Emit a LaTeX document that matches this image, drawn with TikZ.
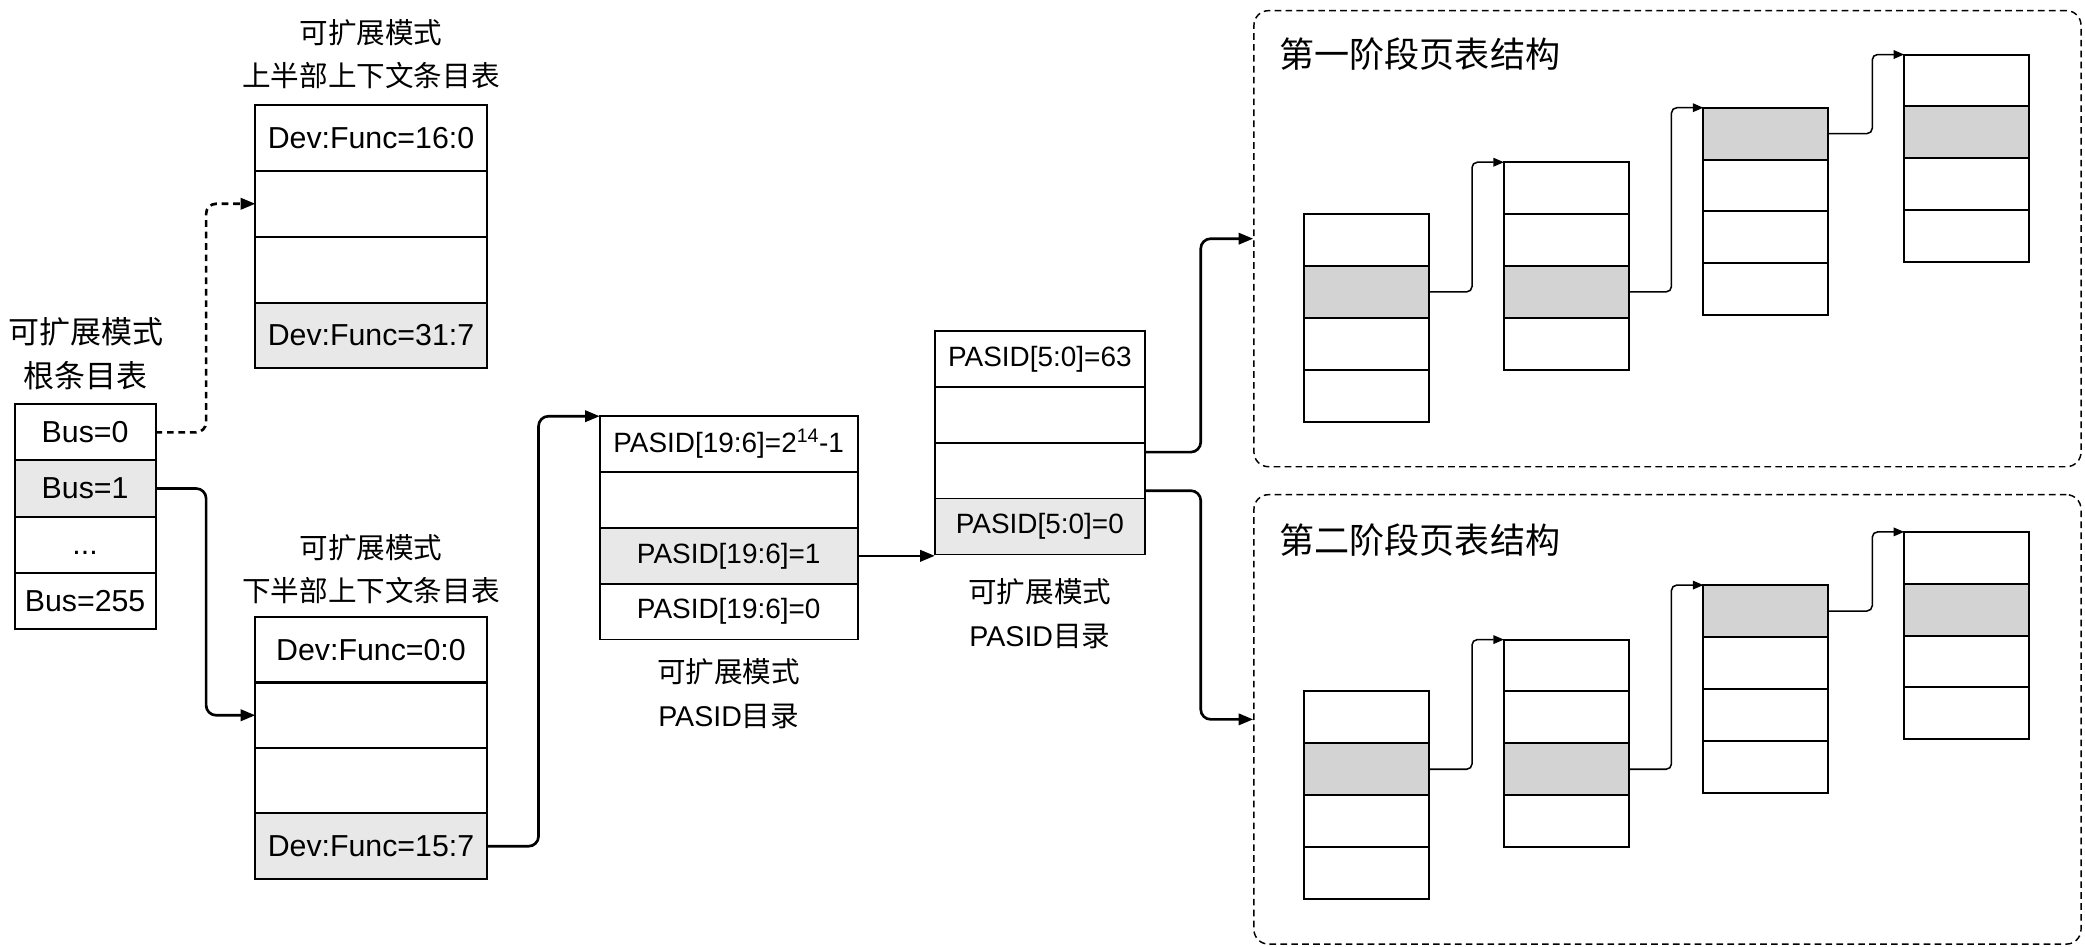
\documentclass[tikz,border=0pt]{standalone}
\usepackage{fontspec}
\setmainfont{Liberation Sans}
\newfontfamily\cjk{Noto Sans CJK SC}
\usetikzlibrary{arrows.meta}
\definecolor{cellgray}{HTML}{E8E8E8}
\definecolor{stackgray}{HTML}{D3D3D3}
\begin{document}
\begin{tikzpicture}[x=1pt,y=-1pt,
  tcell/.style={draw, line width=1.5pt, inner sep=0pt, outer sep=0pt, font=\fontsize{22.8}{26}\selectfont},
  pcell/.style={tcell, line width=1.25pt, font=\fontsize{21}{24}\selectfont},
  scell/.style={draw, line width=1.5pt, inner sep=0pt, outer sep=0pt, minimum width=94pt, minimum height=39pt},
  lbl/.style={align=center, inner sep=0pt, font=\cjk\fontsize{21.5}{32.5}\selectfont},
  conn/.style={line width=2pt, rounded corners=7.5pt, -{Triangle[length=11pt,width=8.5pt]}},
  sconn/.style={line width=1.15pt, rounded corners=4pt, -{Triangle[length=8pt,width=6.5pt]}},
  stagebox/.style={draw, dash pattern=on 5pt off 3.2pt, line width=1.1pt, rounded corners=11pt, minimum width=622pt, inner sep=0pt},
  ttl/.style={anchor=west, inner sep=0pt, font=\cjk\fontsize{26.4}{30}\selectfont}
]
\useasboundingbox (0,0) rectangle (1568,712);
\fill[white] (0,0) rectangle (1568,712);

% root table
\node[lbl, font=\cjk\fontsize{23.3}{32.7}\selectfont] (rootlbl) at (64.5,266) {可扩展模式\\根条目表};
\node[tcell, minimum width=106pt, minimum height=42.25pt] (r0) at (64,325.125) {Bus=0};
\node[tcell, minimum width=106pt, minimum height=42.25pt, fill=cellgray] (r1) at (64,367.375) {Bus=1};
\node[tcell, minimum width=106pt, minimum height=42.25pt] (r2) at (64,409.625) {\vphantom{Bus}...};
\node[tcell, minimum width=106pt, minimum height=42.25pt] (r3) at (64,451.875) {Bus=255};

% upper context table
\node[lbl] (uplbl) at (279,40.5) {可扩展模式\\上半部上下文条目表};
\node[tcell, minimum width=174pt, minimum height=49.5pt] (u1) at (279,103.75) {Dev:Func=16:0};
\node[tcell, minimum width=174pt, minimum height=49.5pt] (u2) at (279,153.25) {};
\node[tcell, minimum width=174pt, minimum height=49.5pt] (u3) at (279,202.75) {};
\node[tcell, minimum width=174pt, minimum height=49.5pt, fill=cellgray] (u4) at (279,252.25) {Dev:Func=31:7};

% lower context table
\node[lbl] (lolbl) at (279,428) {可扩展模式\\下半部上下文条目表};
\node[tcell, minimum width=174pt, minimum height=49.25pt] (l1) at (279,488.6) {Dev:Func=0:0};
\node[tcell, minimum width=174pt, minimum height=49.25pt] (l2) at (279,537.9) {};
\node[tcell, minimum width=174pt, minimum height=49.25pt] (l3) at (279,587.1) {};
\node[tcell, minimum width=174pt, minimum height=49.25pt, fill=cellgray] (l4) at (279,636.4) {Dev:Func=15:7};

% PASID[19:6] directory
\node[pcell, minimum width=194pt, minimum height=42pt] (p1) at (548,334) {PASID[19:6]=2\textsuperscript{14}-1};
\node[pcell, minimum width=194pt, minimum height=42pt] (p2) at (548,376) {};
\node[pcell, minimum width=194pt, minimum height=42pt, fill=cellgray] (p3) at (548,418) {PASID[19:6]=1};
\node[pcell, minimum width=194pt, minimum height=42pt] (p4) at (548,460) {PASID[19:6]=0};
\node[lbl] (p19lbl) at (548,521.6) {可扩展模式\\{\rmfamily PASID}目录};

% PASID[5:0] directory
\node[pcell, minimum width=158pt, minimum height=42pt] (q1) at (782,270) {PASID[5:0]=63};
\node[pcell, minimum width=158pt, minimum height=42pt] (q2) at (782,312) {};
\node[pcell, minimum width=158pt, minimum height=42pt] (q3) at (782,354) {};
\node[pcell, minimum width=158pt, minimum height=42pt, fill=cellgray] (q4) at (782,396) {PASID[5:0]=0};
\node[lbl] (p5lbl) at (782,461.5) {可扩展模式\\{\rmfamily PASID}目录};

% stage boxes
\node[stagebox, minimum height=343pt] (box1) at (1254,179.5) {};
\node[stagebox, minimum height=338pt] (box2) at (1254,541) {};
\node[ttl] (t1) at (962,41) {第一阶段页表结构};
\node[ttl] (t2) at (962,406) {第二阶段页表结构};

\foreach \s/\dy in {1/0,2/359}{
  \foreach \k/\cx/\top/\g in {a/1028/161/2, b/1178/122/3, c/1328/81/1, d/1479/41/2}{
    \foreach \i in {1,...,4}{
      \pgfmathsetmacro\yc{\top+\dy+(\i-0.5)*39}
      \ifnum\i=\g\relax\def\fc{stackgray}\else\def\fc{white}\fi
      \node[scell, fill=\fc] (s\s\k\i) at (\cx,\yc) {};
    }
  }
}
\foreach \s in {1,2}{
  \draw[sconn] (s\s a2.east) -- ++(32,0) |- (s\s b1.north west);
  \draw[sconn] (s\s b3.east) -- ++(32,0) |- (s\s c1.north west);
  \draw[sconn] (s\s c1.east) -- ++(33,0) |- (s\s d1.north west);
}

% connectors
\draw[conn, dash pattern=on 5pt off 3.6pt] (r0.east) -- ++(38,0) |- (u2.west);
\draw[conn] (r1.east) -- ++(38,0) |- (l2.west);
\draw[conn] (l4.east) -- ++(39,0) |- (p1.north west);
\draw[conn] (p3.east) -- (p3.east -| q4.west);
\draw[conn] ([yshift=14pt]q3.east) -- ++(42,0) |- (box1.west);
\draw[conn] ([yshift=-15pt]q3.east) -- ++(42,0) |- (box2.west);
\end{tikzpicture}
\end{document}
